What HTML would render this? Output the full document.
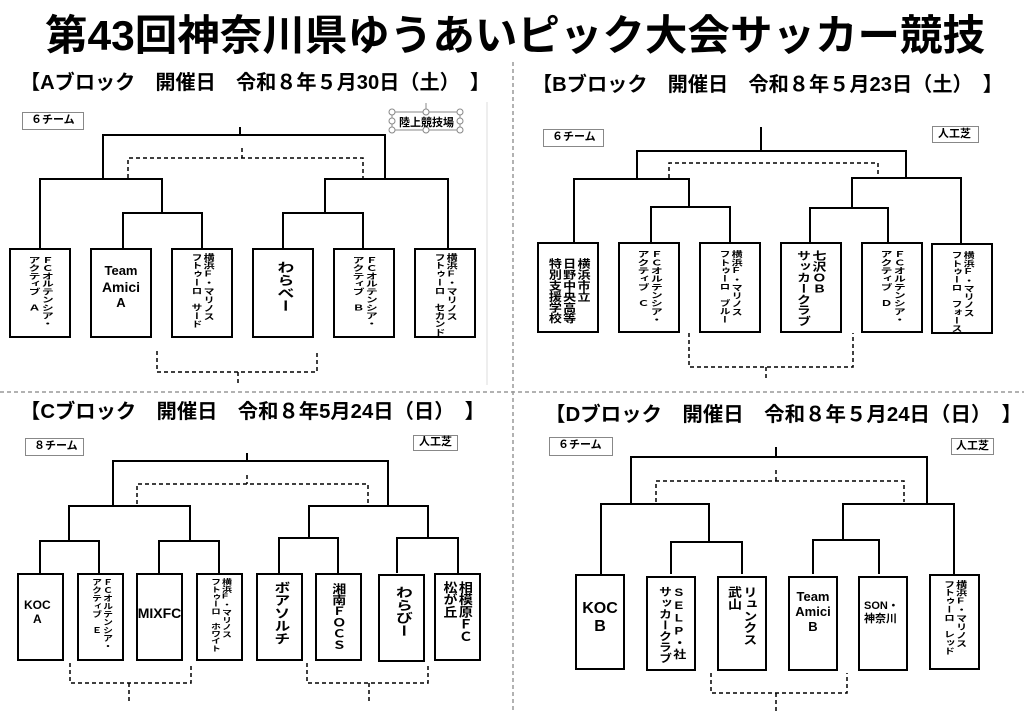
<!DOCTYPE html>
<html><head><meta charset="utf-8"><style>
body{margin:0;background:#fff;}
#w{position:relative;width:1024px;height:712px;overflow:hidden;font-family:"Liberation Sans","Noto Sans CJK JP",sans-serif;}
svg{position:absolute;left:0;top:0;}
.b{position:absolute;border:2px solid #000;box-sizing:border-box;display:flex;justify-content:center;align-items:flex-start;padding-top:6px;background:#fff;font-weight:bold;color:#000;overflow:hidden;}
.v{writing-mode:vertical-rl;text-orientation:upright;line-height:1.1;white-space:nowrap;transform-origin:top center;}
.h{line-height:1.15;text-align:center;}
.lbl{position:absolute;border:1.5px solid #888;box-sizing:border-box;font-weight:bold;font-size:11px;padding-left:8px;line-height:15px;background:#fff;}
</style></head><body><div id="w">
<svg width="1024" height="712" font-family="Liberation Sans, Noto Sans CJK JP, sans-serif" font-weight="bold">
<text x="45" y="50" font-size="42" textLength="940" lengthAdjust="spacingAndGlyphs">第43回神奈川県ゆうあいピック大会サッカー競技</text>
<text x="20" y="89" font-size="20" textLength="470" lengthAdjust="spacingAndGlyphs">【Aブロック　開催日　令和８年５月30日（土）　】</text>
<text x="532" y="91" font-size="20" textLength="471" lengthAdjust="spacingAndGlyphs">【Bブロック　開催日　令和８年５月23日（土）　】</text>
<text x="20" y="418" font-size="20" textLength="465" lengthAdjust="spacingAndGlyphs">【Cブロック　開催日　令和８年5月24日（日）　】</text>
<text x="545" y="421" font-size="20" textLength="477" lengthAdjust="spacingAndGlyphs">【Dブロック　開催日　令和８年５月24日（日）　】</text>
<g stroke="#999" stroke-width="1.5" stroke-dasharray="4 3" fill="none">
<line x1="513" y1="62" x2="513" y2="712"/><line x1="0" y1="392" x2="1024" y2="392"/>
</g>
<line x1="487" y1="102" x2="487" y2="385" stroke="#ddd" stroke-width="1"/>
<g stroke="#000" stroke-width="2" fill="none">
<path d="M240 127V135M103 179V135H385V179M40 248V179H162V213M123 248V213H202V248M325 213V179H448V248M283 248V213H363V248"/>
<path d="M761 127V151M637 179V151H906V178M574 242V179H689V207M651 242V207H730V242M852 208V178H961V243M810 242V208H888V242"/>
<path d="M247 453V461M113 506V461H388V506M69 541V506H190V541M40 573V541H99V573M159 573V541H219V573M309 538V506H428V538M279 573V538H338V573M397 573V538H458V573"/>
<path d="M776 447V457M631 504V457H927V504M601 574V504H709V542M671 574V542H742V574M843 540V504H954V574M813 574V540H879V574"/>
</g>
<g stroke="#000" stroke-width="1.5" fill="none" stroke-dasharray="4 3">
<path d="M242 148V158M128 178V158H363V178M157 351V372H317V351M238 372V383"/>
<path d="M669 178V163H878V178M689 333V367H853V333M766 367V378"/>
<path d="M247 475V484M137 504V484H368V504M70 663V683H191V663M129 683V703M307 663V683H428V663M369 683V703"/>
<path d="M776 470V481M656 502V481H904V502M711 673V693H847V673M776 693V712"/>
</g>
<line x1="426" y1="103" x2="426" y2="112" stroke="#888" stroke-width="1"/>
<rect x="392" y="112" width="68" height="18" fill="none" stroke="#888" stroke-width="1"/>
<g fill="#fff" stroke="#888" stroke-width="1">
<circle cx="392" cy="112" r="3"/><circle cx="426" cy="112" r="3"/><circle cx="460" cy="112" r="3"/>
<circle cx="392" cy="121" r="3"/><circle cx="460" cy="121" r="3"/>
<circle cx="392" cy="130" r="3"/><circle cx="426" cy="130" r="3"/><circle cx="460" cy="130" r="3"/>
</g>
<text x="399" y="126" font-size="11">陸上競技場</text>
</svg>
<div class="lbl" style="left:22px;top:112px;width:62px;height:18px">６チーム</div>
<div class="lbl" style="left:543px;top:129px;width:61px;height:18px">６チーム</div>
<div class="lbl" style="left:932px;top:126px;width:47px;height:17px;padding-left:5px">人工芝</div>
<div class="lbl" style="left:25px;top:438px;width:59px;height:18px">８チーム</div>
<div class="lbl" style="left:413px;top:435px;width:45px;height:16px;padding-left:5px;line-height:13px">人工芝</div>
<div class="lbl" style="left:549px;top:437px;width:64px;height:19px">６チーム</div>
<div class="lbl" style="left:951px;top:438px;width:43px;height:17px;padding-left:4px">人工芝</div>

<!-- A boxes -->
<div class="b" style="left:9px;top:248px;width:62px;height:90px"><div class="v" style="font-size:12px;transform:scaleY(0.66)">ＦＣオルテンシア・<br>アクティブ　Ａ</div></div>
<div class="b" style="left:90px;top:248px;width:62px;height:90px;padding-top:14px"><div class="h" style="font-size:13px">Team<br><span style="font-size:14px">Amici</span><br>A</div></div>
<div class="b" style="left:171px;top:248px;width:62px;height:90px;padding-top:3px"><div class="v" style="font-size:11px;transform:scaleY(0.76)">横浜F・マリノス<br>フトゥーロ　サード</div></div>
<div class="b" style="left:252px;top:248px;width:62px;height:90px;padding-top:11px"><div class="v" style="font-size:17px;transform:scaleY(0.75)">わらべー</div></div>
<div class="b" style="left:333px;top:248px;width:62px;height:90px"><div class="v" style="font-size:12px;transform:scaleY(0.66)">ＦＣオルテンシア・<br>アクティブ　Ｂ</div></div>
<div class="b" style="left:414px;top:248px;width:62px;height:90px;padding-top:3px"><div class="v" style="font-size:11px;transform:scaleY(0.76)">横浜F・マリノス<br>フトゥーロ　セカンド</div></div>
<!-- B boxes -->
<div class="b" style="left:537px;top:242px;width:62px;height:91px;padding-top:14px"><div class="v" style="font-size:13px;transform:scaleY(0.84)">横浜市立<br>日野中央高等<br>特別支援学校</div></div>
<div class="b" style="left:618px;top:242px;width:62px;height:91px"><div class="v" style="font-size:12px;transform:scaleY(0.68)">ＦＣオルテンシア・<br>アクティブ　Ｃ</div></div>
<div class="b" style="left:699px;top:242px;width:62px;height:91px"><div class="v" style="font-size:11px;transform:scaleY(0.74)">横浜F・マリノス<br>フトゥーロ　ブルー</div></div>
<div class="b" style="left:780px;top:242px;width:62px;height:91px"><div class="v" style="font-size:14px;transform:scaleY(0.78)">七沢ＯＢ<br>サッカークラブ</div></div>
<div class="b" style="left:861px;top:242px;width:62px;height:91px"><div class="v" style="font-size:12px;transform:scaleY(0.68)">ＦＣオルテンシア・<br>アクティブ　Ｄ</div></div>
<div class="b" style="left:931px;top:243px;width:62px;height:91px"><div class="v" style="font-size:11px;transform:scaleY(0.74)">横浜F・マリノス<br>フトゥーロ　フォース</div></div>
<!-- C boxes -->
<div class="b" style="left:17px;top:573px;width:47px;height:88px;padding-top:24px;justify-content:flex-start;padding-left:5px"><div class="h" style="font-size:12px">KOC<br>A</div></div>
<div class="b" style="left:77px;top:573px;width:47px;height:88px;padding-top:3px"><div class="v" style="font-size:10px;transform:scaleY(0.8)">ＦＣオルテンシア・<br>アクティブ　Ｅ</div></div>
<div class="b" style="left:136px;top:573px;width:47px;height:88px;padding-top:30px"><div class="h" style="font-size:14px">MIXFC</div></div>
<div class="b" style="left:196px;top:573px;width:47px;height:88px;padding-top:3px"><div class="v" style="font-size:10px;transform:scaleY(0.74)">横浜F・マリノス<br>フトゥーロ　ホワイト</div></div>
<div class="b" style="left:256px;top:573px;width:47px;height:88px;padding-top:6px"><div class="v" style="font-size:16px;transform:scaleY(0.8)">ボアソルチ</div></div>
<div class="b" style="left:315px;top:573px;width:47px;height:88px;padding-top:8px"><div class="v" style="font-size:14px;transform:scaleY(0.8)">湘南ＦＯＣＳ</div></div>
<div class="b" style="left:378px;top:574px;width:47px;height:88px;padding-top:10px"><div class="v" style="font-size:17px;transform:scaleY(0.75)">わらびー</div></div>
<div class="b" style="left:434px;top:573px;width:47px;height:88px;padding-top:6px"><div class="v" style="font-size:14px;transform:scaleY(0.88)">相模原ＦＣ<br>松が丘</div></div>
<!-- D boxes -->
<div class="b" style="left:575px;top:574px;width:50px;height:96px;padding-top:24px"><div class="h" style="font-size:16px">KOC<br>B</div></div>
<div class="b" style="left:646px;top:576px;width:50px;height:95px;padding-top:8px"><div class="v" style="font-size:13px;transform:scaleY(0.85)">SELP・社<br>サッカークラブ</div></div>
<div class="b" style="left:717px;top:576px;width:50px;height:95px;padding-top:8px"><div class="v" style="font-size:14px;transform:scaleY(0.85)">リュンクス<br>武山</div></div>
<div class="b" style="left:788px;top:576px;width:50px;height:95px;padding-top:12px"><div class="h" style="font-size:13px">Team<br>Amici<br>B</div></div>
<div class="b" style="left:858px;top:576px;width:50px;height:95px;padding-top:22px;justify-content:flex-start;padding-left:4px"><div class="h" style="font-size:11px;text-align:left">SON・<br>神奈川</div></div>
<div class="b" style="left:929px;top:574px;width:51px;height:96px;padding-top:4px"><div class="v" style="font-size:11px;transform:scaleY(0.76)">横浜F・マリノス<br>フトゥーロ　レッド</div></div>
</div></body></html>
